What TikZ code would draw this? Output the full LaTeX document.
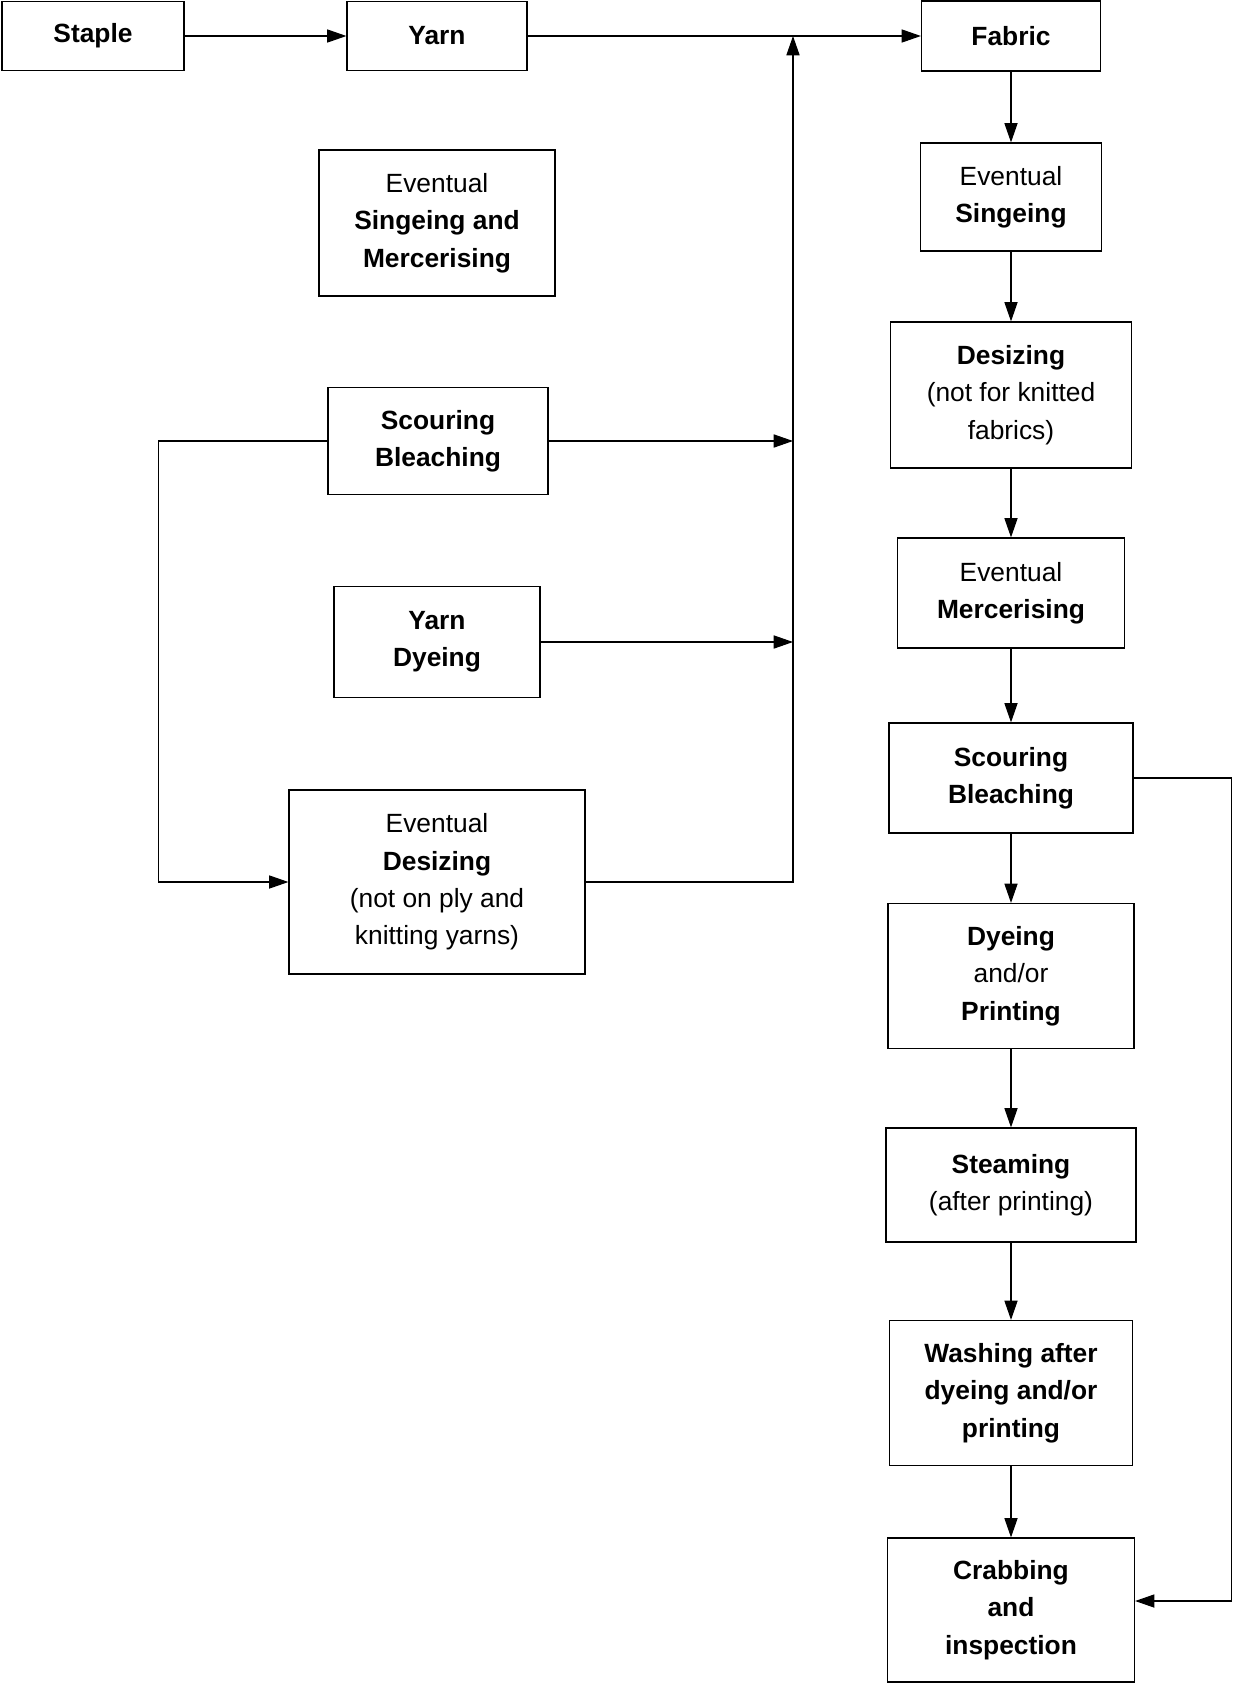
\documentclass[tikz,border=0pt]{standalone}
\usepackage{fontspec}
\setmainfont{Liberation Sans}
\usetikzlibrary{arrows.meta}
\tikzset{
  stage/.style={draw, line width=0.7pt, align=center, inner sep=0pt,
    font=\fontsize{15}{21.3}\selectfont},
  flow/.style={line width=0.6pt, -{Triangle[length=11pt,width=7.5pt]}}
}
\begin{document}
\begin{tikzpicture}[x=0.02cm, y=-0.02cm]
      \useasboundingbox (0,0) rectangle (1234,1684);
      % yarn route
      \node[stage, minimum width=182*0.02cm, minimum height=69*0.02cm] (staple) at (93,36) {\textbf{Staple}};
      \node[stage, minimum width=180*0.02cm, minimum height=69*0.02cm] (yarn) at (437,36) {\textbf{Yarn}};
      \node[stage, minimum width=236*0.02cm, minimum height=146*0.02cm] (singmer) at (437,223)
        {Eventual\\\textbf{Singeing and}\\\textbf{Mercerising}};
      \node[stage, minimum width=220*0.02cm, minimum height=107*0.02cm] (scourY) at (438,441)
        {\textbf{Scouring}\\\textbf{Bleaching}};
      \node[stage, minimum width=206*0.02cm, minimum height=111*0.02cm] (yarndye) at (437,642)
        {\textbf{Yarn}\\\textbf{Dyeing}};
      \node[stage, minimum width=296*0.02cm, minimum height=184*0.02cm] (desizeY) at (437,882)
        {Eventual\\\textbf{Desizing}\\(not on ply and\\knitting yarns)};
      \coordinate (join) at (793,36);
      % fabric route
      \node[stage, minimum width=179*0.02cm, minimum height=70*0.02cm] (fabric) at (1011,36) {\textbf{Fabric}};
      \node[stage, minimum width=181*0.02cm, minimum height=108*0.02cm] (sing) at (1011,197)
        {Eventual\\\textbf{Singeing}};
      \node[stage, minimum width=241*0.02cm, minimum height=146*0.02cm] (desize) at (1011,395)
        {\textbf{Desizing}\\(not for knitted\\fabrics)};
      \node[stage, minimum width=227*0.02cm, minimum height=110*0.02cm] (merc) at (1011,593)
        {Eventual\\\textbf{Mercerising}};
      \node[stage, minimum width=244*0.02cm, minimum height=110*0.02cm] (scour) at (1011,778)
        {\textbf{Scouring}\\\textbf{Bleaching}};
      \node[stage, minimum width=246*0.02cm, minimum height=145*0.02cm] (dye) at (1011,976)
        {\textbf{Dyeing}\\and/or\\\textbf{Printing}};
      \node[stage, minimum width=250*0.02cm, minimum height=114*0.02cm] (steam) at (1011,1185)
        {\textbf{Steaming}\\(after printing)};
      \node[stage, minimum width=243*0.02cm, minimum height=145*0.02cm] (wash) at (1011,1393)
        {\textbf{Washing after}\\\textbf{dyeing and/or}\\\textbf{printing}};
      \node[stage, minimum width=247*0.02cm, minimum height=144*0.02cm] (crab) at (1011,1610)
        {\textbf{Crabbing}\\\textbf{and}\\\textbf{inspection}};
      \begin{scope}[flow]
        \draw (staple) -- (yarn);
        \draw (yarn) -- (fabric);
        \draw (scourY.east) -- (scourY.east -| join);
        \draw (yarndye.east) -- (yarndye.east -| join);
        \draw (desizeY.east) -| (join);
        \draw (scourY.west) -- ++(-169,0) |- (desizeY.west);
        \draw (fabric) -- (sing);
        \draw (sing) -- (desize);
        \draw (desize) -- (merc);
        \draw (merc) -- (scour);
        \draw (scour) -- (dye);
        \draw (dye) -- (steam);
        \draw (steam) -- (wash);
        \draw (wash) -- (crab);
        \draw (scour.east) -- ++(98,0) |- ([yshift=0.18cm]crab.east);
      \end{scope}
    \end{tikzpicture}
\end{document}
